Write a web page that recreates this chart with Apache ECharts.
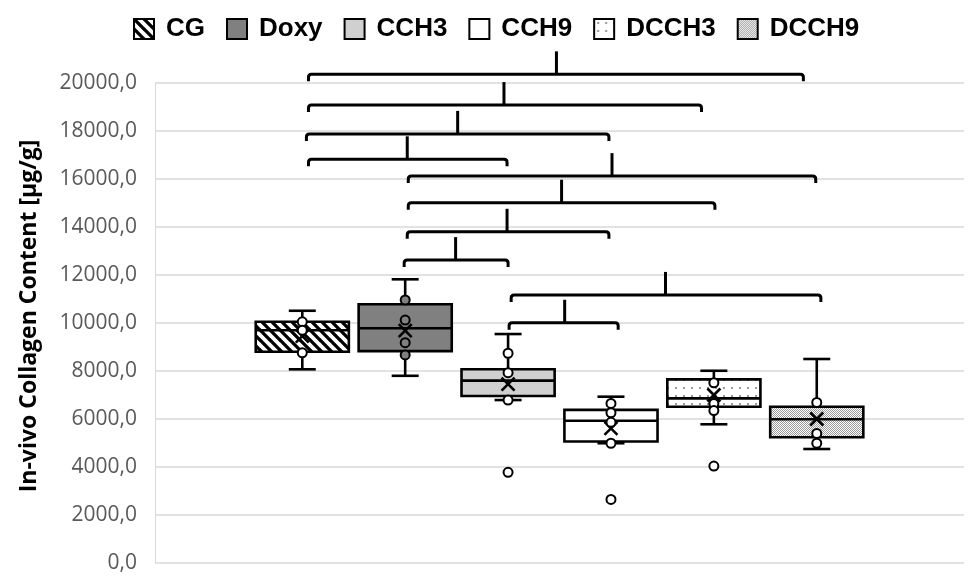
<!DOCTYPE html>
<html><head><meta charset="utf-8">
<script src="https://cdn.jsdelivr.net/npm/echarts@6/dist/echarts.min.js"></script>
<style>html,body{margin:0;padding:0;background:#fff}#c{width:974px;height:577px}</style>
</head><body><div id="c"></div>
<script>
// ---- data ----
const categories = ['CG', 'Doxy', 'CCH3', 'CCH9', 'DCCH3', 'DCCH9'];
const boxMin    = [8070, 7800, 6790, 4990, 5780, 4750];
const boxQ1     = [8800, 8830, 6960, 5060, 6510, 5240];
const boxMedian = [9700, 9780, 7600, 5930, 6860, 5990];
const boxQ3     = [10050, 10780, 8070, 6380, 7650, 6510];
const boxMax    = [10510, 11820, 9540, 6930, 8010, 8500];
const boxMean   = [9450, 9680, 7450, 5610, 7000, 6000];
const pointsCG    = [10050, 9700, 8760];
const pointsDoxy  = [10960, 10120, 9180, 8670];
const pointsCCH3  = [8740, 7930, 6790, 3780];
const pointsCCH9  = [6650, 6260, 5860, 4990, 2650];
const pointsDCCH3 = [7510, 6650, 6350, 4040];
const pointsDCCH9 = [6690, 5400, 4990];
const pointLists = [pointsCG, pointsDoxy, pointsCCH3, pointsCCH9, pointsDCCH3, pointsDCCH9];
const yTickLabels = ['0,0','2000,0','4000,0','6000,0','8000,0','10000,0','12000,0','14000,0','16000,0','18000,0','20000,0'];
// significance brackets (x in category units, y in µg/g)
const bracketFrom  = [0.06, 0.06, 0.04, 0.06, 1.03, 1.03, 1.02, 0.99, 2.03, 2.01];
const bracketTo    = [4.87, 3.88, 2.98, 1.99, 4.99, 4.01, 2.98, 2.00, 5.04, 3.07];
const bracketLevel = [20360, 19080, 17880, 16820, 16120, 15010, 13800, 12620, 11170, 10010];
const bracketTick  = [2.47, 1.96, 1.51, 1.02, 3.01, 2.52, 1.99, 1.49, 3.53, 2.55];

// ---- fills ----
function makePattern(size, draw) {
  const cv = document.createElement('canvas');
  cv.width = size; cv.height = size;
  const ctx = cv.getContext('2d');
  ctx.fillStyle = '#fff'; ctx.fillRect(0, 0, size, size);
  draw(ctx, size);
  return { image: cv, repeat: 'repeat' };
}
const hatchFill = makePattern(10, function (ctx, s) {
  ctx.strokeStyle = '#000'; ctx.lineWidth = 3.3; ctx.beginPath();
  for (let k = -1; k <= 1; k++) { ctx.moveTo(-1, k * s - 1); ctx.lineTo(s + 1, s + k * s + 1); }
  ctx.stroke();
});
const sparseDots = makePattern(8, function (ctx) {
  ctx.fillStyle = '#777'; ctx.beginPath(); ctx.arc(4, 4, 1, 0, Math.PI * 2); ctx.fill();
});
const denseDots = makePattern(2, function (ctx) {
  ctx.fillStyle = '#999'; ctx.fillRect(0, 0, 1, 1); ctx.fillRect(1, 1, 1, 1);
});
const fills = [hatchFill, '#808080', '#d0d0d0', '#ffffff', sparseDots, denseDots];
const pointFills = ['#ffffff', '#808080', '#ffffff', '#ffffff', '#ffffff', '#ffffff'];

const BOX_W = 0.905, CAP = 13.5, LW = 2.6, DROP = 7, TICK = 23;

function makeBoxRender(i) {
  return function (params, api) {
    const x = api.value(0);
    const p = function (v) { return api.coord([x, v]); };
    const w = api.size([BOX_W, 0])[0], hw = w / 2;
    const pMin = p(api.value(1)), pQ1 = p(api.value(2)), pMed = p(api.value(3)),
          pQ3 = p(api.value(4)), pMax = p(api.value(5)), pMean = p(api.value(6));
    const cx = pMin[0];
    const ls = { stroke: '#000', lineWidth: LW };
    const m = 6.5;
    return { type: 'group', children: [
      { type: 'line', shape: { x1: cx, y1: pMax[1], x2: cx, y2: pQ3[1] }, style: ls },
      { type: 'line', shape: { x1: cx, y1: pQ1[1], x2: cx, y2: pMin[1] }, style: ls },
      { type: 'line', shape: { x1: cx - CAP, y1: pMax[1], x2: cx + CAP, y2: pMax[1] }, style: ls },
      { type: 'line', shape: { x1: cx - CAP, y1: pMin[1], x2: cx + CAP, y2: pMin[1] }, style: ls },
      { type: 'rect', shape: { x: cx - hw, y: pQ3[1], width: w, height: pQ1[1] - pQ3[1] },
        style: { fill: fills[i], stroke: '#000', lineWidth: LW } },
      { type: 'line', shape: { x1: cx - hw, y1: pMed[1], x2: cx + hw, y2: pMed[1] }, style: ls },
      { type: 'line', shape: { x1: cx - m, y1: pMean[1] - m, x2: cx + m, y2: pMean[1] + m }, style: { stroke: '#000', lineWidth: 2.6 } },
      { type: 'line', shape: { x1: cx + m, y1: pMean[1] - m, x2: cx - m, y2: pMean[1] + m }, style: { stroke: '#000', lineWidth: 2.6 } }
    ] };
  };
}

function bracketRender(params, api) {
  const y = api.value(2);
  const a = api.coord([api.value(0), y]);
  const b = api.coord([api.value(1), y]);
  const t = api.coord([api.value(3), y]);
  const r = 3;
  const d = 'M' + a[0] + ',' + (a[1] + DROP) + ' L' + a[0] + ',' + (a[1] + r) +
            ' Q' + a[0] + ',' + a[1] + ' ' + (a[0] + r) + ',' + a[1] +
            ' L' + (b[0] - r) + ',' + b[1] +
            ' Q' + b[0] + ',' + b[1] + ' ' + b[0] + ',' + (b[1] + r) +
            ' L' + b[0] + ',' + (b[1] + DROP);
  return { type: 'group', children: [
    { type: 'path', shape: { pathData: d }, style: { stroke: '#000', lineWidth: 3, fill: null } },
    { type: 'line', shape: { x1: t[0], y1: t[1], x2: t[0], y2: t[1] - TICK }, style: { stroke: '#000', lineWidth: 3 } }
  ] };
}

const series = [];
categories.forEach(function (name, i) {
  series.push({
    name: name, type: 'custom', z: 2,
    renderItem: makeBoxRender(i),
    itemStyle: { color: fills[i], borderColor: '#000', borderWidth: 2 },
    data: [[i, boxMin[i], boxQ1[i], boxMedian[i], boxQ3[i], boxMax[i], boxMean[i]]]
  });
});
categories.forEach(function (name, i) {
  series.push({
    name: name + ' points', type: 'scatter', z: 3, symbol: 'circle', symbolSize: 9,
    itemStyle: { color: pointFills[i], borderColor: '#000', borderWidth: 2, opacity: 1 },
    data: pointLists[i].map(function (v) { return [i, v]; })
  });
});
series.push({
  name: 'brackets', type: 'custom', z: 4, renderItem: bracketRender,
  data: bracketFrom.map(function (f, k) { return [f, bracketTo[k], bracketLevel[k], bracketTick[k]]; })
});

const chart = echarts.init(document.getElementById('c'), null, { renderer: 'canvas' });
chart.setOption({
  animation: false,
  backgroundColor: '#fff',
  legend: {
    data: categories, left: 128, top: 11, icon: 'rect', itemWidth: 20, itemHeight: 20, itemGap: 21,
    selectedMode: false,
    itemStyle: { borderColor: '#000', borderWidth: 2 },
    textStyle: { fontFamily: 'Liberation Sans', fontWeight: 'bold', fontSize: 26, color: '#000', padding: [0, 0, 0, 7] }
  },
  grid: { left: 155, right: 10, top: 83, bottom: 14, containLabel: false },
  xAxis: { type: 'value', min: -1.4315, max: 6.431, show: false },
  yAxis: {
    type: 'value', min: 0, max: 20000, interval: 2000,
    axisLine: { show: true, onZero: false, lineStyle: { color: '#d9d9d9', width: 1 } },
    axisTick: { show: false },
    splitLine: { lineStyle: { color: '#d9d9d9', width: 1.5 } },
    axisLabel: {
      margin: 18, color: '#595959', fontFamily: 'Open Sans', fontSize: 21,
      formatter: function (v) { return yTickLabels[Math.round(v / 2000)]; }
    }
  },
  graphic: [{
    type: 'text', x: 29, y: 316, rotation: Math.PI / 2,
    style: { text: 'In-vivo Collagen Content [µg/g]', fill: '#000', font: 'bold 23px "Open Sans"', align: 'center', verticalAlign: 'middle' }
  }],
  series: series
});
</script></body></html>
